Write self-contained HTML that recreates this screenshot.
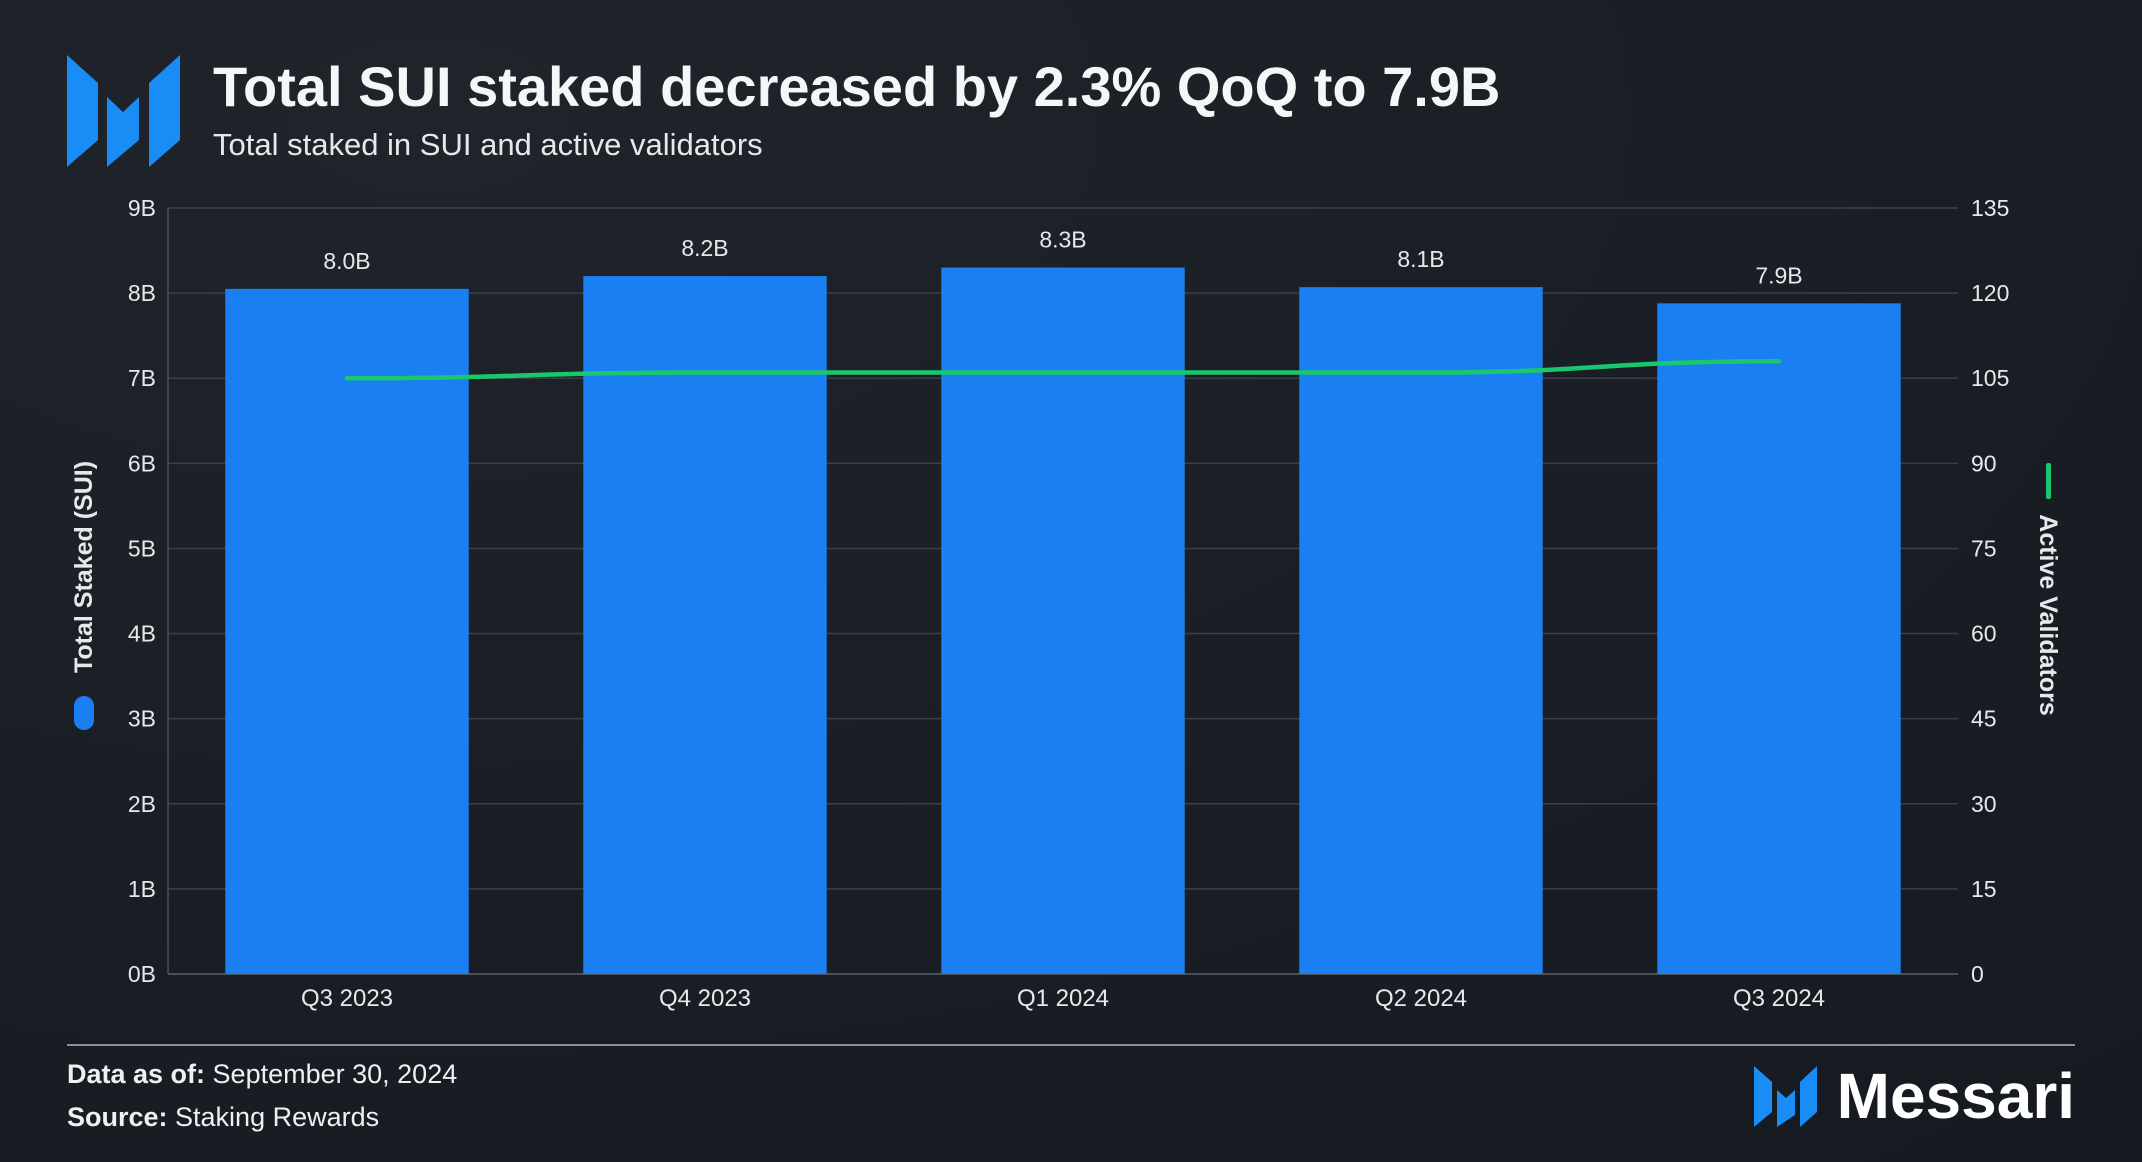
<!DOCTYPE html>
<html><head><meta charset="utf-8"><style>
html,body{margin:0;padding:0;width:2142px;height:1162px;overflow:hidden;background:#181d23}
svg{display:block;font-family:"Liberation Sans",sans-serif}
</style></head><body>
<svg id="chart" width="2142" height="1162" viewBox="0 0 2142 1162">
<defs>
<radialGradient id="bg" cx="0.2" cy="0.1" r="1.2">
<stop offset="0" stop-color="#1f242b"/><stop offset="1" stop-color="#151a20"/>
</radialGradient>
</defs>
<rect width="2142" height="1162" fill="url(#bg)"/>
<g fill="#1a8cf5">
<polygon points="67,55 98,83 98,140 67,167"/>
<polygon points="107,97 123,112 139,97 139,140 107,167"/>
<polygon points="180,55 180,140 149,167 149,83"/>
</g>
<text x="213" y="106" fill="#f4f6f8" font-size="56" font-weight="700">Total SUI staked decreased by 2.3% QoQ to 7.9B</text>
<text x="213" y="155" fill="#e6e9ec" font-size="31">Total staked in SUI and active validators</text>
<g id="grid"></g>
<g id="bars"></g>
<g id="line"></g>
<g id="labels"></g>
<text transform="translate(92,567) rotate(-90)" text-anchor="middle" fill="#e6e9ec" font-size="25" font-weight="700">Total Staked (SUI)</text>
<rect x="74" y="696" width="20" height="34" rx="10" fill="#1a7ff0"/>
<text transform="translate(2040,615) rotate(90)" text-anchor="middle" fill="#e6e9ec" font-size="25" font-weight="700">Active Validators</text>
<rect x="2046" y="463" width="5" height="36" rx="2" fill="#19c86c"/>
<line x1="67" y1="1045" x2="2075" y2="1045" stroke="#8a9098" stroke-width="2"/>
<text x="67" y="1083" fill="#eef0f2" font-size="27"><tspan font-weight="700">Data as of:</tspan> September 30, 2024</text>
<text x="67" y="1126" fill="#eef0f2" font-size="27"><tspan font-weight="700">Source:</tspan> Staking Rewards</text>
<g fill="#1a8cf5">
<polygon points="1754,1066 1772,1082 1772,1112 1754,1127"/>
<polygon points="1777,1090 1786,1098 1795,1090 1795,1115 1777,1127"/>
<polygon points="1817,1066 1817,1112 1800,1127 1800,1082"/>
</g>
<text x="2075" y="1118" text-anchor="end" fill="#ffffff" font-size="64" font-weight="700">Messari</text>
</svg>
<script>
var categories=["Q3 2023","Q4 2023","Q1 2024","Q2 2024","Q3 2024"];
var staked=[8.05,8.2,8.3,8.07,7.88];
var stakedLabels=["8.0B","8.2B","8.3B","8.1B","7.9B"];
var validators=[105,106,106,106,108];
var leftTicks=[0,1,2,3,4,5,6,7,8,9];
var rightTicks=[0,15,30,45,60,75,90,105,120,135];
var NS="http://www.w3.org/2000/svg";
var L=168,R=1958,T=208,B=974;
var band=(R-L)/categories.length;
function xC(i){return L+band*(i+0.5);}
function yL(v){return B-(v/9)*(B-T);}
function yR(v){return B-(v/135)*(B-T);}
function mk(t,a,p){var e=document.createElementNS(NS,t);for(var k in a)e.setAttribute(k,a[k]);p.appendChild(e);return e;}
var g=document.getElementById('grid'),bg=document.getElementById('bars'),lg=document.getElementById('line'),lb=document.getElementById('labels');
leftTicks.forEach(function(t,i){
 var ln=mk('line',{x1:L,x2:R,y1:yL(t),y2:yL(t),stroke:i===0?'#5a6068':'#3a4048','stroke-width':1.5},g);
 
 
 var tx=mk('text',{x:156,y:yL(t)+8,'text-anchor':'end',fill:'#e6e9ec','font-size':23},lb);
 tx.textContent=t+'B';
 
 
});
var ax=mk('line',{x1:L,x2:L,y1:T,y2:B,stroke:'#4a5058','stroke-width':1.5},g);


rightTicks.forEach(function(t){
 var tx=mk('text',{x:1971,y:yR(t)+8,fill:'#e6e9ec','font-size':23},lb);
 tx.textContent=t;
 
 
});
var bw=band*0.68;
categories.forEach(function(c,i){
 var r=mk('rect',{x:xC(i)-bw/2,y:yL(staked[i]),width:bw,height:B-yL(staked[i]),fill:'#1a7ff0'},bg);
 
 
 var v=mk('text',{x:xC(i),y:yL(staked[i])-20,'text-anchor':'middle',fill:'#e6e9ec','font-size':23},lb);
 v.textContent=stakedLabels[i];
 
 
 var xl=mk('text',{x:xC(i),y:1006,'text-anchor':'middle',fill:'#e6e9ec','font-size':24},lb);
 xl.textContent=c;
 
 
});
var pts=validators.map(function(v,i){return [xC(i),yR(v)];});
var d='M'+pts[0][0]+','+pts[0][1];
for(var i=1;i<pts.length;i++){var p=pts[i-1],q=pts[i],m=(q[0]-p[0])/2;d+=' C'+(p[0]+m)+','+p[1]+' '+(q[0]-m)+','+q[1]+' '+q[0]+','+q[1];}
var path=mk('path',{d:d,fill:'none',stroke:'#19c86c','stroke-width':4.5,'stroke-linecap':'round'},lg);


</script>
</body></html>
